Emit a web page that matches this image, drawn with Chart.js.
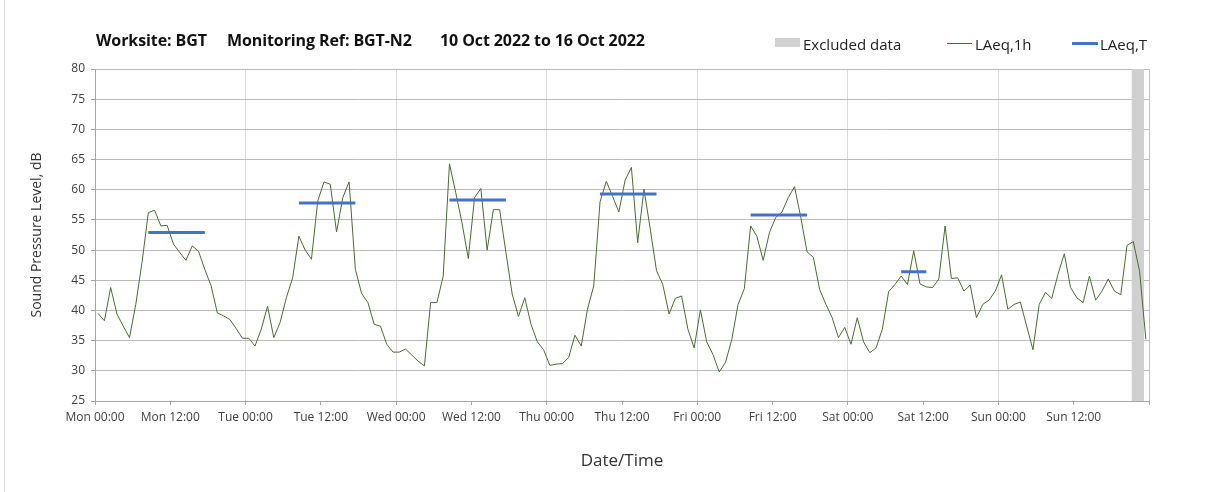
<!DOCTYPE html>
<html>
<head>
<meta charset="utf-8">
<script src="https://cdn.jsdelivr.net/npm/chart.js@4.4.1/dist/chart.umd.min.js"></script>
<style>
  body { margin: 0; background: #fff; }
  #wrap { position: relative; width: 1208px; height: 492px; font-family: 'Open Sans', sans-serif; }
  #wrap canvas { position: absolute; left: 0; top: 0; }
  #frame { position: absolute; left: 4px; top: 0; bottom: 0; border-left: 1px solid #d9d9d9; }
  .ttl { position: absolute; top: 30px; font-size: 16px; line-height: 20px; font-weight: bold; color: #111; white-space: nowrap; letter-spacing: -0.1px; }
  .lg { position: absolute; top: 34px; font-size: 15px; line-height: 20px; color: #222; white-space: nowrap; }
  .sw { position: absolute; }
</style>
</head>
<body>
<div id="wrap">
  <div id="frame"></div>
  <canvas id="myChart" width="1208" height="492"></canvas>
  <div class="ttl" style="left:96px">Worksite: BGT</div>
  <div class="ttl" style="left:227px">Monitoring Ref: BGT-N2</div>
  <div class="ttl" style="left:440px">10 Oct 2022 to 16 Oct 2022</div>

  <div class="sw" style="left:775px;top:38px;width:25px;height:9px;background:#d0d0d0"></div>
  <div class="lg" style="left:803px">Excluded data</div>
  <div class="sw" style="left:947px;top:43px;width:25px;height:1px;background:#4a6b2e"></div>
  <div class="lg" style="left:975px">LAeq,1h</div>
  <div class="sw" style="left:1072px;top:42px;width:26px;height:3px;background:#4472c4"></div>
  <div class="lg" style="left:1100px">LAeq,T</div>
</div>
<script>
// week of hourly data, Mon 00:00 -> Sun 24:00
const dayNames = ['Mon', 'Tue', 'Wed', 'Thu', 'Fri', 'Sat', 'Sun'];

const laeq1h = [
  39.5, 38.3, 43.8, 39.4, 37.4, 35.5, 41.0, 48.0, 56.2, 56.6,
  54.0, 54.1, 51.0, 49.6, 48.3, 50.7, 49.8, 46.8, 44.1, 39.6,
  39.1, 38.5, 37.0, 35.4, 35.4, 34.1, 36.9, 40.7, 35.5, 38.0,
  42.1, 45.4, 52.3, 50.0, 48.5, 58.1, 61.3, 60.9, 53.0, 58.7,
  61.3, 46.8, 42.8, 41.3, 37.7, 37.4, 34.4, 33.1, 33.1, 33.6,
  32.6, 31.6, 30.8, 41.3, 41.3, 45.7, 64.3, 59.5, 54.5, 48.6,
  58.7, 60.2, 50.0, 56.7, 56.7, 49.6, 42.7, 39.0, 42.1, 37.7,
  34.8, 33.5, 30.9, 31.1, 31.2, 32.2, 35.9, 34.1, 40.2, 44.1,
  58.0, 61.4, 58.9, 56.3, 61.6, 63.7, 51.2, 60.1, 53.5, 46.6,
  44.3, 39.4, 42.0, 42.4, 36.9, 33.8, 40.1, 34.8, 32.7, 29.8,
  31.4, 35.2, 41.0, 43.6, 54.0, 52.3, 48.3, 52.9, 55.4, 56.3,
  58.7, 60.5, 55.4, 49.7, 48.8, 43.5, 41.0, 38.8, 35.5, 37.2,
  34.4, 38.8, 34.8, 33.0, 33.8, 36.9, 43.1, 44.3, 45.7, 44.3,
  49.9, 44.4, 43.9, 43.8, 45.2, 54.0, 45.3, 45.4, 43.2, 44.2,
  38.8, 41.0, 41.7, 43.2, 45.9, 40.2, 41.0, 41.4, 37.4, 33.5,
  41.0, 43.0, 42.0, 46.0, 49.4, 43.8, 42.1, 41.3, 45.7, 41.7,
  43.2, 45.2, 43.2, 42.6, 50.8, 51.4, 46.5, 35.2
];

// daytime LAeq,T periods (hour index from Mon 00:00)
const laeqTStart = [8, 32, 56, 80, 104, 128];
const laeqTEnd = [17, 41, 65, 89, 113, 132];
const laeqTValues = [52.9, 57.8, 58.3, 59.3, 55.8, 46.4];

// excluded data period (hours from Mon 00:00)
const excludedFrom = 165.2;
const excludedTo = 167.2;

const yMin = 25, yMax = 80;

// points sit mid-hour
const lineData = laeq1h.map((v, i) => ({ x: i + 0.5, y: v }));

const tData = [];
laeqTValues.forEach((v, k) => {
  tData.push({ x: laeqTStart[k] + 0.5, y: v });
  tData.push({ x: laeqTEnd[k] + 0.5, y: v });
  tData.push({ x: laeqTEnd[k] + 0.5, y: null });
});

const ctx = document.getElementById('myChart');

new Chart(ctx, {
  type: 'line',
  data: {
    datasets: [{
      label: 'LAeq,T',
      data: tData,
      borderColor: '#4472c4',
      borderWidth: 3,
      borderCapStyle: 'butt',
      pointRadius: 0,
      spanGaps: false,
      order: 1
    }, {
      label: 'LAeq,1h',
      data: lineData,
      borderColor: '#4a6b2e',
      borderWidth: 1,
      pointRadius: 0,
      tension: 0,
      order: 2
    }, {
      label: 'Excluded data',
      data: [{ x: excludedFrom, y: yMax }, { x: excludedTo, y: yMax }],
      borderWidth: 0,
      borderColor: 'rgba(0,0,0,0)',
      backgroundColor: '#d0d0d0',
      fill: 'start',
      pointRadius: 0,
      order: 3
    }]
  },
  options: {
    responsive: false,
    animation: false,
    layout: { padding: { left: 24, right: 59, top: 69, bottom: 0 } },
    plugins: {
      legend: { display: false },
      tooltip: { enabled: false }
    },
    scales: {
      x: {
        type: 'linear',
        min: 0,
        max: 168,
        afterFit: (scale) => { scale.height = 91; },
        ticks: {
          stepSize: 12,
          autoSkip: false,
          maxRotation: 0,
          padding: 5,
          color: '#404040',
          font: { family: 'Open Sans', size: 12 },
          callback: (v) => {
            if (v >= 168) return '';
            return dayNames[Math.floor(v / 24)] + (v % 24 === 0 ? ' 00:00' : ' 12:00');
          }
        },
        grid: {
          color: (c) => {
            const v = c.tick ? c.tick.value : 0;
            if (v === 168) return '#bfbfbf';
            return v % 24 === 0 ? '#dadada' : 'rgba(0,0,0,0)';
          },
          tickColor: '#a6a6a6',
          tickLength: 4
        },
        border: { color: '#a6a6a6' },
        title: {
          display: true,
          text: 'Date/Time',
          color: '#333',
          font: { family: 'Open Sans', size: 17 },
          padding: { top: 0, bottom: 21 }
        }
      },
      y: {
        min: yMin,
        max: yMax,
        afterFit: (scale) => { scale.width = 71; },
        ticks: {
          stepSize: 5,
          padding: 6,
          color: '#404040',
          font: { family: 'Open Sans', size: 12 }
        },
        grid: {
          color: '#bcbcbc',
          tickColor: '#a6a6a6',
          tickLength: 4
        },
        border: { color: '#a6a6a6' },
        title: {
          display: true,
          text: 'Sound Pressure Level, dB',
          color: '#333',
          font: { family: 'Open Sans', size: 14 },
          padding: { top: 5, bottom: 0 }
        }
      }
    }
  }
});
</script>
</body>
</html>
